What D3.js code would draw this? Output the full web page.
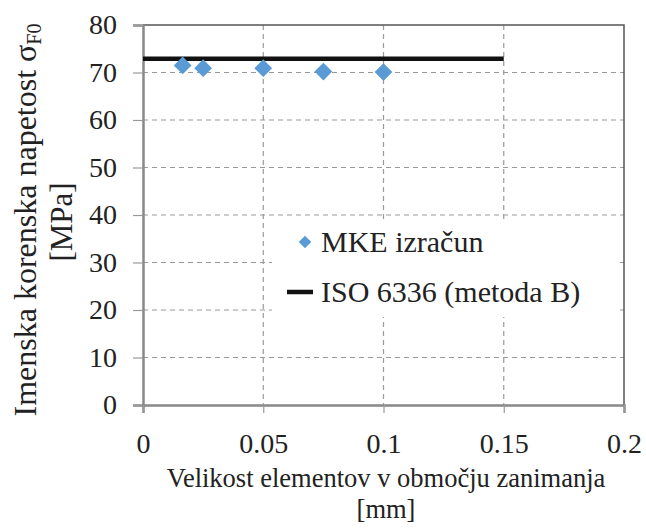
<!DOCTYPE html>
<html>
<head>
<meta charset="utf-8">
<script src="https://cdn.jsdelivr.net/npm/d3@7"></script>
<style>
  body { margin: 0; background: #fff; }
  text { font-family: "Liberation Serif", "Times New Roman", "DejaVu Serif", serif; fill: #222; }
</style>
</head>
<body>
<svg id="chart" width="646" height="529"></svg>
<script>
// data
var mkeX = [0.0165, 0.025, 0.05, 0.075, 0.1];
var mkeY = [71.5, 70.9, 70.9, 70.2, 70.1];
var isoX = [0, 0.15];
var isoY = [72.9, 72.9];
var xTicks = [0, 0.05, 0.1, 0.15, 0.2];
var yTicks = [0, 10, 20, 30, 40, 50, 60, 70, 80];
var legendLabels = ["MKE izračun", "ISO 6336 (metoda B)"];

var svg = d3.select('#chart');
var mLeft = 143, mRight = 624, mTop = 25, mBottom = 405;
var serif = '"Liberation Serif", "Times New Roman", "DejaVu Serif", serif';

var x = d3.scaleLinear().domain([0, 0.2]).range([mLeft, mRight]);
var y = d3.scaleLinear().domain([0, 80]).range([mBottom, mTop]);

var blue = '#5b9bd5';

// gridlines
svg.append('g').selectAll('line')
    .data(yTicks.filter(d => d > 0 && d < 80))
    .enter().append('line')
    .attr('x1', mLeft).attr('x2', mRight)
    .attr('y1', d => y(d)).attr('y2', d => y(d))
    .attr('stroke', '#999').attr('stroke-width', 1.2)
    .attr('stroke-dasharray', '5,4');
svg.append('g').selectAll('line')
    .data(xTicks.filter(d => d > 0 && d < 0.2))
    .enter().append('line')
    .attr('x1', d => x(d)).attr('x2', d => x(d))
    .attr('y1', mTop).attr('y2', mBottom)
    .attr('stroke', '#999').attr('stroke-width', 1.2)
    .attr('stroke-dasharray', '5,4');

// plot border top/right
svg.append('path')
    .attr('d', `M${mLeft},${mTop}H${mRight}V${mBottom}`)
    .attr('fill', 'none').attr('stroke', '#555').attr('stroke-width', 1.5);

// axes
var yAxis = svg.append('g')
    .attr('transform', `translate(${mLeft},0)`)
    .call(d3.axisLeft(y).tickValues(yTicks).tickSize(10).tickPadding(16).tickFormat(d3.format('d')));
var xAxis = svg.append('g')
    .attr('transform', `translate(0,${mBottom})`)
    .call(d3.axisBottom(x).tickValues(xTicks).tickSize(8).tickPadding(20).tickFormat(d => d === 0 ? '0' : String(d)));

[yAxis, xAxis].forEach(function(a) {
    a.attr('font-family', serif).attr('font-size', 28);
    a.select('.domain').attr('stroke', '#888').attr('stroke-width', 2.5);
    a.selectAll('.tick line').attr('stroke', '#999').attr('stroke-width', 1.2);
    a.selectAll('.tick text').attr('fill', '#222');
});

// ISO line
svg.append('path')
    .datum(isoX.map((d, i) => [d, isoY[i]]))
    .attr('d', d3.line().x(d => x(d[0])).y(d => y(d[1])))
    .attr('stroke', '#111').attr('stroke-width', 4.5).attr('fill', 'none');

// MKE diamonds
var diamond = d3.symbol().type(d3.symbolDiamond2).size(200);
svg.append('g').selectAll('path')
    .data(mkeX.map((d, i) => [d, mkeY[i]]))
    .enter().append('path')
    .attr('d', diamond)
    .attr('transform', d => `translate(${x(d[0])},${y(d[1])})`)
    .attr('fill', blue);

// legend
var lg = svg.append('g');
lg.append('rect')
    .attr('x', 272).attr('y', 219).attr('width', 346).attr('height', 98)
    .attr('fill', '#fff');
lg.append('path')
    .attr('d', d3.symbol().type(d3.symbolDiamond2).size(100))
    .attr('transform', 'translate(305,242)')
    .attr('fill', blue);
lg.append('line')
    .attr('x1', 287).attr('x2', 313).attr('y1', 292).attr('y2', 292)
    .attr('stroke', '#111').attr('stroke-width', 4.5);
lg.selectAll('text')
    .data(legendLabels)
    .enter().append('text')
    .attr('x', 321).attr('y', (d, i) => 252 + i * 50)
    .attr('font-size', 30)
    .text(d => d);

// y title
var yt = svg.append('text')
    .attr('transform', 'translate(36,220) rotate(-90)')
    .attr('text-anchor', 'middle')
    .attr('font-size', 32);
yt.append('tspan').text('Imenska korenska napetost σ');
yt.append('tspan').attr('font-size', 20).attr('dy', 5).text('F0');
svg.append('text')
    .attr('transform', 'translate(72,222) rotate(-90)')
    .attr('text-anchor', 'middle')
    .attr('font-size', 31)
    .text('[MPa]');

// x title
svg.append('text')
    .attr('x', 386).attr('y', 487)
    .attr('text-anchor', 'middle').attr('font-size', 26.5)
    .text('Velikost elementov v območju zanimanja');
svg.append('text')
    .attr('x', 386).attr('y', 518)
    .attr('text-anchor', 'middle').attr('font-size', 26.5)
    .text('[mm]');
</script>
</body>
</html>
